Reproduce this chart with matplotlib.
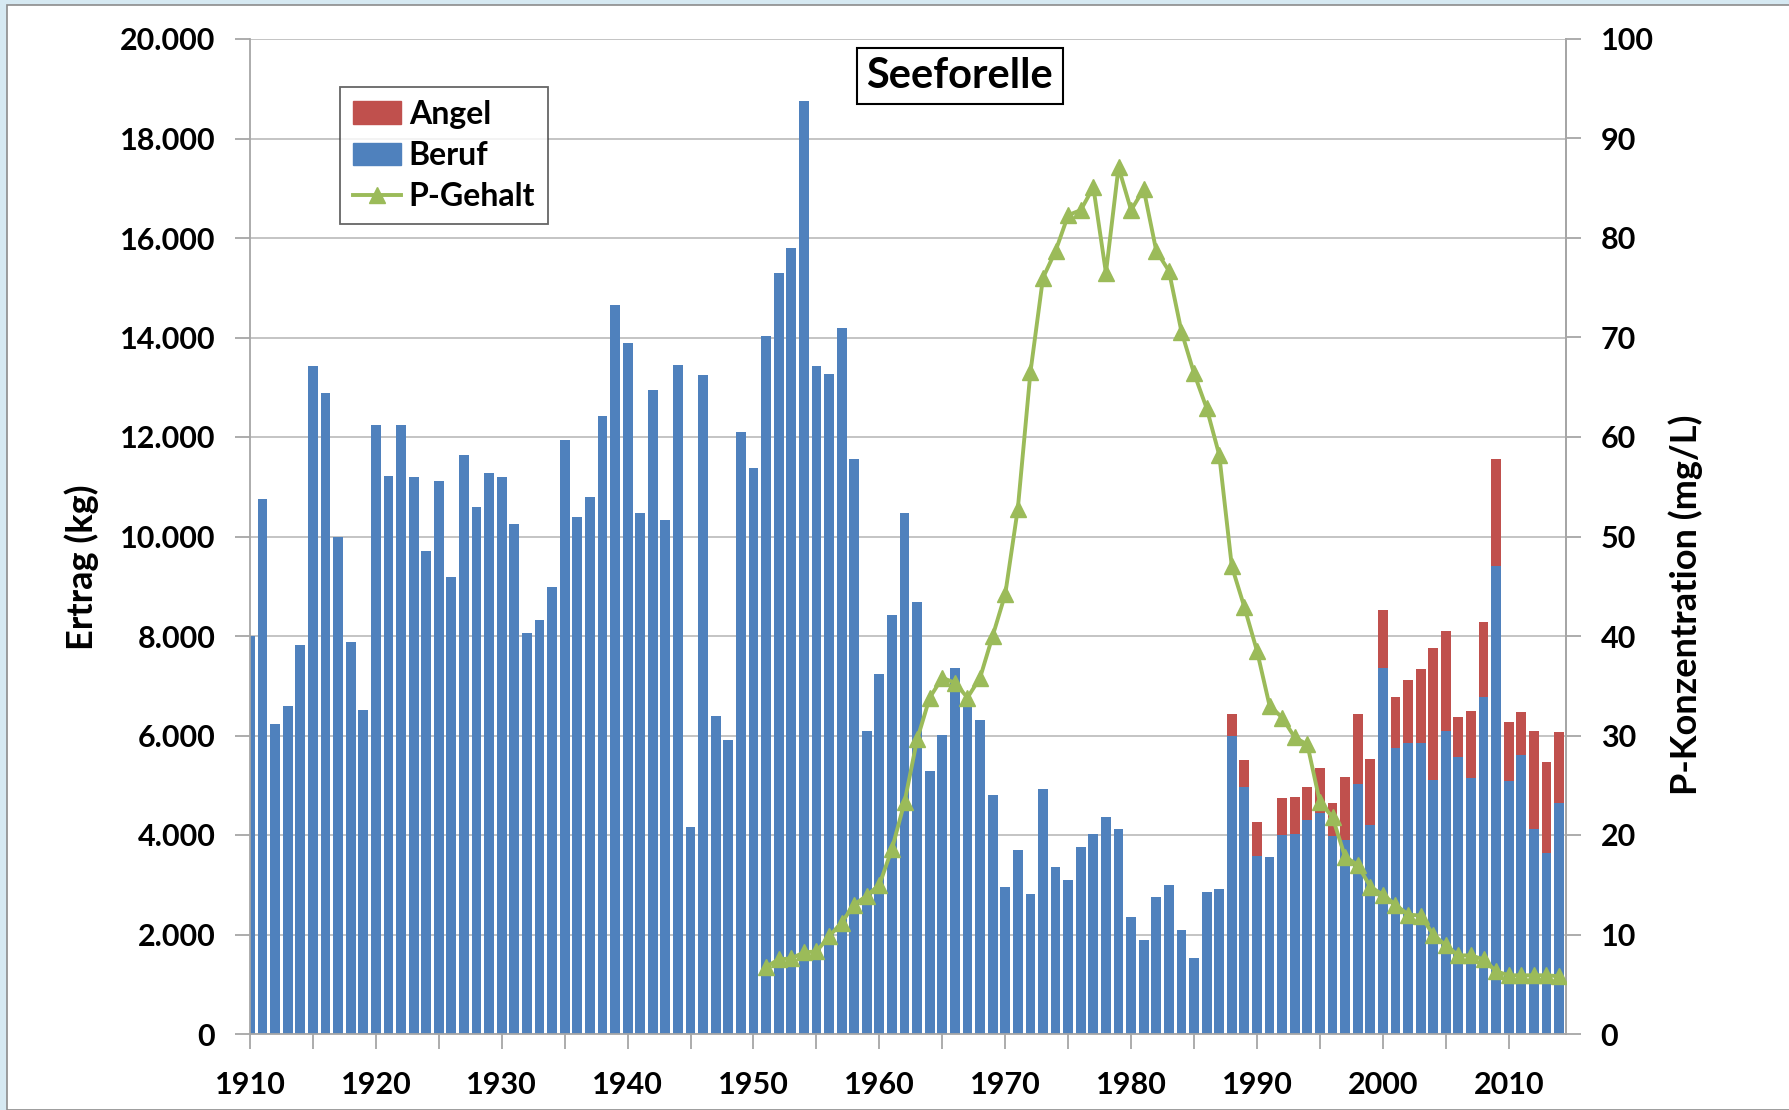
import matplotlib
matplotlib.use("Agg")
import matplotlib.pyplot as plt
import matplotlib.patches as mpatches
from matplotlib.lines import Line2D
import numpy as np

plt.rcParams['font.family'] = ['Lato', 'DejaVu Sans']
plt.rcParams['font.weight'] = 'bold'

# Beruf (Berufsfischerei), kg, 1910-2014
years = np.arange(1910, 2015)
beruf = [
    8000, 10750, 6230, 6590, 7820, 13430, 12890, 10000, 7870, 6520,      # 1910-1919
    12250, 11210, 12250, 11190, 9710, 11110, 9190, 11640, 10590, 11280,  # 1920-1929
    11190, 10250, 8070, 8330, 8980, 11930, 10390, 10800, 12420, 14660,   # 1930-1939
    13890, 10470, 12950, 10330, 13450, 4160, 13240, 6400, 5910, 12100,   # 1940-1949
    11380, 14030, 15290, 15790, 18750, 13430, 13270, 14190, 11560, 6090, # 1950-1959
    7230, 8420, 10480, 8680, 5280, 6020, 7350, 6700, 6320, 4800,         # 1960-1969
    2950, 3700, 2820, 4920, 3350, 3100, 3750, 4030, 4370, 4130,          # 1970-1979
    2350, 1880, 2750, 3000, 2100, 1530, 2850, 2920, 6000, 4970,          # 1980-1989
    3570, 3550, 4000, 4030, 4300, 4450, 3970, 3900, 5030, 4200,          # 1990-1999
    7350, 5750, 5850, 5850, 5100, 6100, 5570, 5150, 6780, 9400,          # 2000-2009
    5080, 5600, 4120, 3630, 4650,                                        # 2010-2014
]

# Angel (Angelfischerei), kg, 1988-2014
angel_years = np.arange(1988, 2015)
angel = [
    430, 530, 700, 0, 750, 740, 670, 900, 680, 1270, 1400, 1320,
    1170, 1030, 1270, 1480, 2650, 2000, 810, 1350, 1500, 2150,
    1200, 880, 1980, 1840, 1420,
]

# P-Gehalt, mg/L, 1951-2014
p_years = np.arange(1951, 2015)
p_gehalt = [
    6.75, 7.5, 7.6, 8.2, 8.3, 9.8, 11.2, 13.0, 13.9,
    15.0, 18.6, 23.3, 29.6, 33.8, 35.8, 35.3, 33.8, 35.8, 40.0,
    44.2, 52.8, 66.5, 76.0, 78.7, 82.3, 82.8, 85.1, 76.5, 87.1,
    82.8, 84.9, 78.7, 76.7, 70.6, 66.4, 62.9, 58.2, 47.0, 42.9,
    38.5, 33.0, 31.8, 29.8, 29.1, 23.3, 21.8, 17.8, 17.0, 14.8,
    14.0, 13.0, 12.0, 11.9, 10.0, 8.9, 7.9, 7.9, 7.5, 6.3,
    5.9, 5.9, 5.9, 5.9, 5.8,
]

blue = '#4F81BD'
red = '#C0504D'
green = '#9BBB59'
grey = '#A6A6A6'

W, H = 1789, 1110
fig = plt.figure(figsize=(W / 100, H / 100), dpi=100)
fig.patch.set_facecolor('#d6e9f2')
fig.patches.append(mpatches.Rectangle((7 / W, 0), 1, 1 - 5 / H, transform=fig.transFigure,
                                      facecolor='white', edgecolor='#8c8c8c', lw=1.2, zorder=-10))

ax = fig.add_axes([250 / W, 76 / H, 1316 / W, 995 / H])
ax.set_facecolor('none')

beruf_arr = np.array(beruf)
ax.bar(years, beruf_arr, width=0.78, color=blue, zorder=2)
base = beruf_arr[angel_years - years[0]]
ax.bar(angel_years, angel, width=0.78, bottom=base, color=red, zorder=2)

ax.set_xlim(1910, 2014.55)
ax.set_ylim(0, 20000)
ax.set_yticks(np.arange(0, 20001, 2000))
ax.set_yticklabels([f'{v:,}'.replace(',', '.') for v in range(0, 20001, 2000)])
ax.set_xticks(np.arange(1910, 2011, 10))
ax.set_xticks(np.arange(1915, 2015, 10), minor=True)
ax.grid(axis='y', color='#BFBFBF', lw=1.3, zorder=0)
ax.set_axisbelow(True)

ax.spines['top'].set_visible(False)
for s in ['left', 'right', 'bottom']:
    ax.spines[s].set_color(grey)
    ax.spines[s].set_linewidth(1.3)

ax.tick_params(axis='both', which='both', direction='out', length=11, width=1.3,
               color=grey, labelsize=22, pad=14)
ax.tick_params(axis='x', pad=16)

ax2 = ax.twinx()
ax2.plot(p_years, p_gehalt, color=green, lw=2.8, marker='^', ms=12, zorder=3)
ax2.set_ylim(0, 100)
ax2.set_yticks(np.arange(0, 101, 10))
ax2.tick_params(axis='y', direction='out', length=11, width=1.3, color=grey,
                labelsize=22, pad=14)
for s in ['top', 'left', 'bottom']:
    ax2.spines[s].set_visible(False)
ax2.spines['right'].set_color(grey)
ax2.spines['right'].set_linewidth(1.3)

fig.text(82 / W, 1 - 567 / H, 'Ertrag (kg)', rotation=90, ha='center', va='center', fontsize=26)
fig.text(1686 / W, 1 - 605 / H, 'P-Konzentration (mg/L)', rotation=90, ha='center', va='center', fontsize=26)

ax.text(0.5395, 0.963, 'Seeforelle', transform=ax.transAxes, ha='center', va='center',
        fontsize=30, zorder=5,
        bbox=dict(boxstyle='square,pad=0.22', facecolor='white', edgecolor='black', lw=1.5))

handles = [mpatches.Patch(color=red, label='Angel'),
           mpatches.Patch(color=blue, label='Beruf'),
           Line2D([], [], color=green, lw=2.8, marker='^', ms=12, label='P-Gehalt')]
leg = ax2.legend(handles=handles, loc='upper left', bbox_to_anchor=(0.0684, 0.9518),
                 borderaxespad=0, fontsize=23, frameon=True, fancybox=False,
                 handlelength=1.5, handletextpad=0.25, labelspacing=0.38,
                 borderpad=0.4)
leg.get_frame().set_edgecolor('#404040')
leg.get_frame().set_linewidth(1.3)

fig.savefig('out.png', dpi=100, facecolor=fig.get_facecolor())
